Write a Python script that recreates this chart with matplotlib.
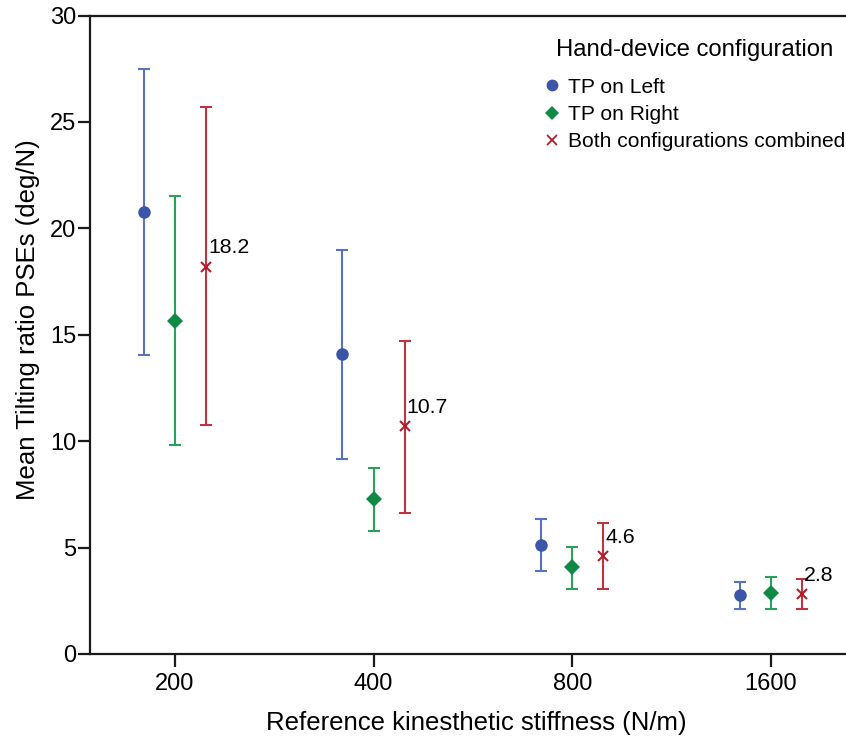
import matplotlib
matplotlib.use("Agg")
import matplotlib.pyplot as plt
from matplotlib.lines import Line2D
import numpy as np

plt.rcParams['font.family'] = ['Liberation Sans', 'DejaVu Sans']

stiffness = ["200", "400", "800", "1600"]

left_mean = [20.76, 14.10, 5.14, 2.76]
left_low = [14.04, 9.16, 3.89, 2.13]
left_high = [27.48, 18.98, 6.36, 3.40]

right_mean = [15.66, 7.27, 4.07, 2.88]
right_low = [9.84, 5.80, 3.07, 2.13]
right_high = [21.54, 8.76, 5.04, 3.60]

both_mean = [18.2, 10.7, 4.6, 2.8]
both_low = [10.75, 6.64, 3.07, 2.10]
both_high = [25.69, 14.72, 6.14, 3.54]

series = [
    ("TP on Left", left_mean, left_low, left_high, "#3b55a9", "#5672c0", "o", 9, -0.157),
    ("TP on Right", right_mean, right_low, right_high, "#0f8a45", "#2aa05a", "D", 8.5, 0.0),
    ("Both configurations combined", both_mean, both_low, both_high, "#b21e2b", "#bf3340", "x", 7, 0.157),
]

fig = plt.figure(figsize=(8.46, 7.36), dpi=100)
ax = fig.add_axes([90 / 846, 1 - 654 / 736, (862 - 90) / 846, (654 - 15.5) / 736])

idx = np.arange(len(stiffness))
handles = []
legend_sizes = {"o": 8.5, "D": 7.5, "x": 6.5}
for name, mean, low, high, mcol, lcol, mk, ms, off in series:
    mean = np.asarray(mean)
    yerr = np.vstack([mean - np.asarray(low), np.asarray(high) - mean])
    ax.errorbar(idx + off, mean, yerr=yerr, fmt="none", ecolor=lcol,
                elinewidth=1.5, capsize=4.3, capthick=1.5, zorder=2)
    ew = 1.5 if mk == "x" else 0
    ax.plot(idx + off, mean, linestyle="none", marker=mk, color=mcol,
            markersize=ms, markeredgewidth=ew, zorder=3)
    handles.append(Line2D([], [], linestyle="none", marker=mk, color=mcol,
                          markersize=legend_sizes[mk],
                          markeredgewidth=1.3 if mk == "x" else 0, label=name))

# value labels for the combined series
for i, v in enumerate(both_mean):
    ax.annotate(f"{v:.1f}", (idx[i] + 0.157, v), xytext=(1.5, 13.5),
                textcoords="offset points", fontsize=15.3, ha="left", va="center")

ax.set_xlim(-0.428, (862 - 175) / 198.6)
ax.set_ylim(0, 30)
ax.set_xticks(idx)
ax.set_xticklabels(stiffness)
ax.set_yticks([0, 5, 10, 15, 20, 25, 30])

for side in ["left", "bottom", "top", "right"]:
    ax.spines[side].set_linewidth(1.6)
    ax.spines[side].set_color("#1a1a1a")

ax.tick_params(axis="both", direction="out", length=9, width=1.6,
               labelsize=17, color="#1a1a1a", pad=1)
ax.tick_params(axis="x", pad=5)

ax.set_ylabel("Mean Tilting ratio PSEs (deg/N)", fontsize=18.5)
ax.yaxis.set_label_coords(-50 / 772, (654 - 320) / 638.5)
ax.set_xlabel("Reference kinesthetic stiffness (N/m)", fontsize=18.5, labelpad=11)

leg = fig.legend(handles=handles, title="Hand-device configuration",
                 loc="upper right", bbox_to_anchor=(845 / 846, 1 - 39 / 736),
                 frameon=False, fontsize=15.1, title_fontsize=17.2,
                 handlelength=0.8, handletextpad=0.35, labelspacing=0.4,
                 borderpad=0, borderaxespad=0)
leg._legend_box.align = "center"
leg._legend_box.sep = 12

fig.savefig("out.png", dpi=100)
